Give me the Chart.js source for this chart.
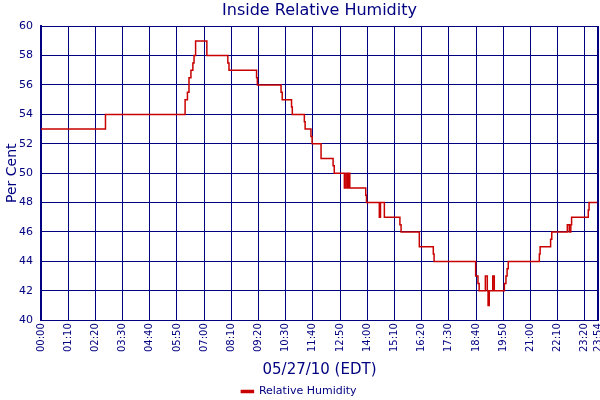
<!DOCTYPE html>
<html>
<head>
<meta charset="utf-8">
<title>Inside Relative Humidity</title>
<script src="https://cdn.jsdelivr.net/npm/chart.js@4/dist/chart.umd.min.js"></script>
<style>
    body { margin: 0; background: #fff; }
    #wrap { width: 600px; height: 400px; }
</style>
</head>
<body>
<div id="wrap"><canvas id="humidity-chart"></canvas></div>
<script>
// Readings: time the value starts (EDT) and relative humidity in per cent
const readingTimes = [
    '00:00', '02:46', '06:11', '06:17', '06:21', '06:26', '06:31', '06:34', '06:38', '07:07',
    '08:01', '08:04', '09:15', '09:17', '10:18', '10:21', '10:45', '10:47', '11:18', '11:20',
    '11:35', '11:38', '12:01', '12:32', '12:35', '13:01', '13:05', '13:09', '13:12', '13:15',
    '13:56', '13:58', '14:31', '14:34', '14:44', '15:24', '15:27', '16:14', '16:50', '16:52',
    '18:39', '18:45', '18:48', '19:04', '19:09', '19:11', '19:14', '19:23', '19:27', '19:53',
    '19:57', '20:00', '20:03', '21:23', '21:25', '21:52', '21:55', '22:35', '22:40', '22:44',
    '22:46', '23:29', '23:31', '23:54'
];
const humidity = [
    53, 54, 55, 55.5, 56.5, 57, 57.5, 58, 59, 58,
    57.5, 57, 56.5, 56, 55.5, 55, 54.5, 54, 53.5, 53,
    52.5, 52, 51, 50.5, 50, 49, 50, 49, 50, 49,
    48.5, 48, 47, 48, 47, 46.5, 46, 45, 44.5, 44,
    43, 42.5, 42, 43, 42, 41, 42, 43, 42, 42.5,
    43, 43.5, 44, 44.5, 45, 45.5, 46, 46.5, 46, 46.5,
    47, 47.5, 48, 48
];
const tickLabels = [
    '00:00', '01:10', '02:20', '03:30', '04:40', '05:50', '07:00', '08:10', '09:20', '10:30', '11:40',
    '12:50', '14:00', '15:10', '16:20', '17:30', '18:40', '19:50', '21:00', '22:10', '23:20', '23:54'
];

const NAVY = '#000080';
const RED = '#c80000';
const FONT = 'DejaVu Sans, Verdana, sans-serif';

function toMinutes(hhmm) {
    const parts = hhmm.split(':');
    return parseInt(parts[0], 10) * 60 + parseInt(parts[1], 10);
}

function toClock(minutes) {
    const h = Math.floor(minutes / 60);
    const m = Math.round(minutes % 60);
    return String(h).padStart(2, '0') + ':' + String(m).padStart(2, '0');
}

// thick frame line on the right side of the plot
const rightBorder = {
    id: 'rightBorder',
    afterDraw(chart) {
        const { ctx, chartArea } = chart;
        ctx.save();
        ctx.strokeStyle = NAVY;
        ctx.lineWidth = 2;
        ctx.beginPath();
        ctx.moveTo(chartArea.right, chartArea.top);
        ctx.lineTo(chartArea.right, chartArea.bottom);
        ctx.stroke();
        ctx.restore();
    }
};

document.addEventListener('DOMContentLoaded', function() {
    const points = readingTimes.map((t, i) => ({ x: toMinutes(t), y: humidity[i] }));
    const tickValues = tickLabels.map(toMinutes);

    const ctx = document.getElementById('humidity-chart').getContext('2d');
    new Chart(ctx, {
        type: 'line',
        data: {
            datasets: [{
                label: 'Relative Humidity',
                data: points,
                borderColor: RED,
                backgroundColor: RED,
                borderWidth: 1.5,
                pointRadius: 0,
                stepped: true,
                fill: false
            }]
        },
        options: {
            responsive: true,
            maintainAspectRatio: false,
            animation: false,
            layout: { padding: { left: 0, right: 2, top: 0, bottom: -7 } },
            plugins: {
                title: {
                    display: true,
                    text: 'Inside Relative Humidity',
                    color: NAVY,
                    fullSize: false,
                    font: { family: FONT, size: 16, weight: 'normal' },
                    padding: { top: 1, bottom: 6 }
                },
                legend: {
                    position: 'bottom',
                    labels: {
                        color: NAVY,
                        boxWidth: 12,
                        boxHeight: 2,
                        padding: 0,
                        font: { family: FONT, size: 11 }
                    }
                },
                tooltip: { enabled: false }
            },
            scales: {
                x: {
                    type: 'linear',
                    min: 0,
                    max: toMinutes('23:54'),
                    afterBuildTicks: function(axis) {
                        axis.ticks = tickValues.map(v => ({ value: v }));
                    },
                    afterFit: function(axis) {
                        axis.paddingLeft = 0;
                        axis.paddingRight = 0;
                    },
                    ticks: {
                        autoSkip: false,
                        minRotation: 90,
                        maxRotation: 90,
                        padding: 3,
                        color: NAVY,
                        font: { family: FONT, size: 10 },
                        callback: value => toClock(value)
                    },
                    grid: { color: NAVY, lineWidth: 1, drawTicks: false },
                    border: { color: NAVY, width: 1 },
                    title: {
                        display: true,
                        text: '05/27/10 (EDT)',
                        color: NAVY,
                        font: { family: FONT, size: 15 },
                        padding: { top: 6, bottom: 7 }
                    }
                },
                y: {
                    min: 40,
                    max: 60,
                    afterFit: function(axis) {
                        axis.width = 41;
                    },
                    ticks: {
                        stepSize: 2,
                        padding: 8,
                        color: NAVY,
                        font: { family: FONT, size: 11 }
                    },
                    grid: { color: NAVY, lineWidth: 1, drawTicks: false },
                    border: { color: NAVY, width: 2 },
                    title: {
                        display: true,
                        text: 'Per Cent',
                        color: NAVY,
                        font: { family: FONT, size: 14 },
                        padding: { top: 4, bottom: 2 }
                    }
                }
            }
        },
        plugins: [rightBorder]
    });
});
</script>
</body>
</html>
